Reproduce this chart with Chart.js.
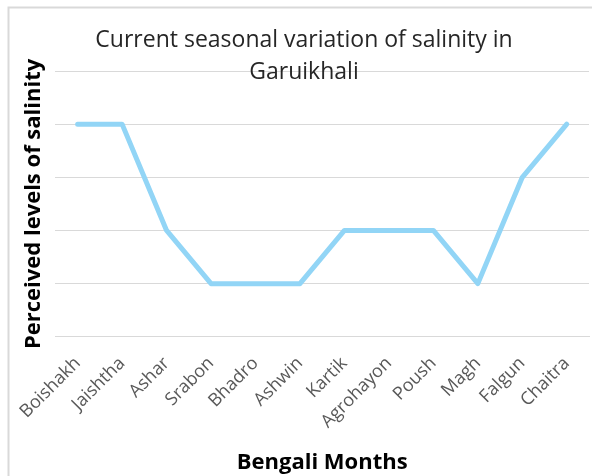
<!DOCTYPE html>
<html>
<head>
<meta charset="utf-8">
<script src="https://cdn.jsdelivr.net/npm/chart.js"></script>
<style>
  html, body { margin: 0; padding: 0; background: #fff; }
  #wrap { position: relative; width: 592px; height: 476px; }
</style>
</head>
<body>
<div id="wrap"><canvas id="chart" width="592" height="476"></canvas></div>
<script>
const months = ['Boishakh', 'Jaishtha', 'Ashar', 'Srabon', 'Bhadro', 'Ashwin',
  'Kartik', 'Agrohayon', 'Poush', 'Magh', 'Falgun', 'Chaitra'];
const salinity = [4, 4, 2, 1, 1, 1, 2, 2, 2, 1, 3, 4];
const titleLines = ['Current seasonal variation of salinity in', 'Garuikhali'];

const FONT = "'Open Sans'";

// frame + title drawn straight on the canvas (title overlaps the plot like the original)
const extras = {
  id: 'extras',
  beforeDraw(chart) {
    const ctx = chart.ctx;
    ctx.save();
    ctx.strokeStyle = '#d9d9d9';
    ctx.lineWidth = 2;
    ctx.beginPath();
    ctx.moveTo(8.5, 476);
    ctx.lineTo(8.5, 7.5);
    ctx.lineTo(592, 7.5);
    ctx.stroke();
    ctx.restore();
  },
  afterDraw(chart) {
    const ctx = chart.ctx;
    ctx.save();
    ctx.font = '23px ' + FONT;
    ctx.fillStyle = '#262626';
    ctx.textAlign = 'center';
    ctx.textBaseline = 'middle';
    ctx.fillText(titleLines[0], 304, 40);
    ctx.fillText(titleLines[1], 304, 72);
    ctx.restore();
  }
};

new Chart(document.getElementById('chart'), {
  type: 'line',
  data: {
    labels: months,
    datasets: [{
      label: 'Salinity',
      data: salinity,
      borderColor: '#92d5f6',
      borderWidth: 5,
      borderCapStyle: 'round',
      borderJoinStyle: 'round',
      pointRadius: 0,
      tension: 0
    }]
  },
  options: {
    responsive: false,
    animation: false,
    layout: { padding: { top: 71, right: 3, left: 17, bottom: 0 } },
    plugins: {
      legend: { display: false },
      tooltip: { enabled: false }
    },
    scales: {
      x: {
        offset: true,
        // the tick padding would otherwise eat into the right edge
        afterFit: (scale) => { scale.paddingRight = 0; },
        grid: { display: false, drawTicks: false },
        border: { display: true, color: '#d9d9d9' },
        ticks: {
          color: '#595959',
          font: { family: FONT, size: 18 },
          maxRotation: 45,
          minRotation: 45,
          padding: 16
        },
        title: {
          display: true,
          text: 'Bengali Months',
          color: '#000',
          font: { family: FONT, size: 22, weight: 'bold' },
          padding: { top: 1, bottom: 0 }
        }
      },
      y: {
        min: 0,
        max: 5,
        ticks: { display: false, stepSize: 1 },
        grid: { color: '#d9d9d9', drawTicks: false },
        border: { display: false },
        title: {
          display: true,
          text: 'Perceived levels of salinity',
          color: '#000',
          font: { family: FONT, size: 22, weight: 'bold' },
          padding: { bottom: 8 }
        }
      }
    }
  },
  plugins: [extras]
});
</script>
</body>
</html>
